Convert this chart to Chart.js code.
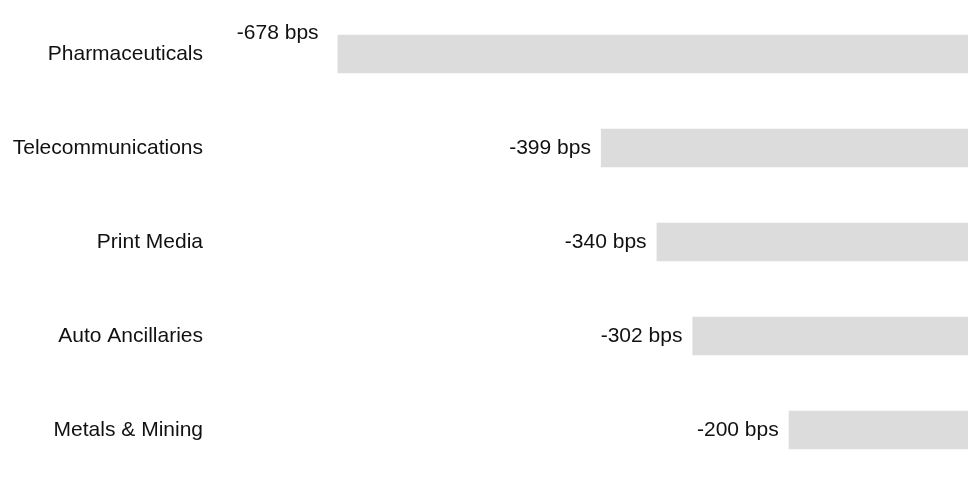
<!DOCTYPE html>
<html>
<head>
<meta charset="utf-8">
<script src="https://cdn.jsdelivr.net/npm/chart.js@4.4.1/dist/chart.umd.min.js"></script>
<style>
  html, body { margin: 0; padding: 0; background: #ffffff; }
  #wrap { width: 968px; height: 478px; position: relative; }
</style>
</head>
<body>
<div id="wrap"><canvas id="chart"></canvas></div>
<script>
// Sector change, in basis points
const sectors = ['Pharmaceuticals', 'Telecommunications', 'Print Media', 'Auto Ancillaries', 'Metals & Mining'];
const changeBps = [-678, -399, -340, -302, -200];
const unitSuffix = ' bps';

const FONT = '"Liberation Sans", Arial, Helvetica, sans-serif';

// Writes "<value> bps" just left of each bar's end; the longest bar's
// label is lifted above its bar.
const valueLabels = {
  id: 'valueLabels',
  afterDatasetsDraw(chart) {
    const ctx = chart.ctx;
    const meta = chart.getDatasetMeta(0);
    const values = chart.data.datasets[0].data;
    const longest = values.reduce((m, v, i) => Math.abs(v) > Math.abs(values[m]) ? i : m, 0);
    ctx.save();
    ctx.font = '21px ' + FONT;
    ctx.fillStyle = '#111111';
    ctx.textAlign = 'right';
    ctx.textBaseline = 'middle';
    meta.data.forEach((bar, i) => {
      const text = values[i] + unitSuffix;
      let x = bar.x - 10;
      let y = bar.y;
      if (i === longest) { x = bar.x - 19; y = bar.y - 21; }
      ctx.fillText(text, x, y);
    });
    ctx.restore();
  }
};

new Chart(document.getElementById('chart'), {
  type: 'bar',
  data: {
    labels: sectors,
    datasets: [{
      data: changeBps,
      backgroundColor: '#dcdcdc',
      borderWidth: 0,
      categoryPercentage: 1,
      barPercentage: 0.412
    }]
  },
  options: {
    indexAxis: 'y',
    responsive: true,
    maintainAspectRatio: false,
    animation: false,
    layout: { padding: { top: 7, bottom: 1, left: 0, right: 0 } },
    plugins: { legend: { display: false }, tooltip: { enabled: false } },
    scales: {
      x: {
        display: false,
        min: -810,
        max: -10
      },
      y: {
        grid: { display: false, drawTicks: false },
        border: { display: false },
        ticks: {
          padding: 10,
          color: '#111111',
          font: { family: FONT, size: 21 }
        },
        afterFit(scale) {
          scale.width = 213;
          scale.paddingTop = 0;
          scale.paddingBottom = 0;
        }
      }
    }
  },
  plugins: [valueLabels]
});
</script>
</body>
</html>
